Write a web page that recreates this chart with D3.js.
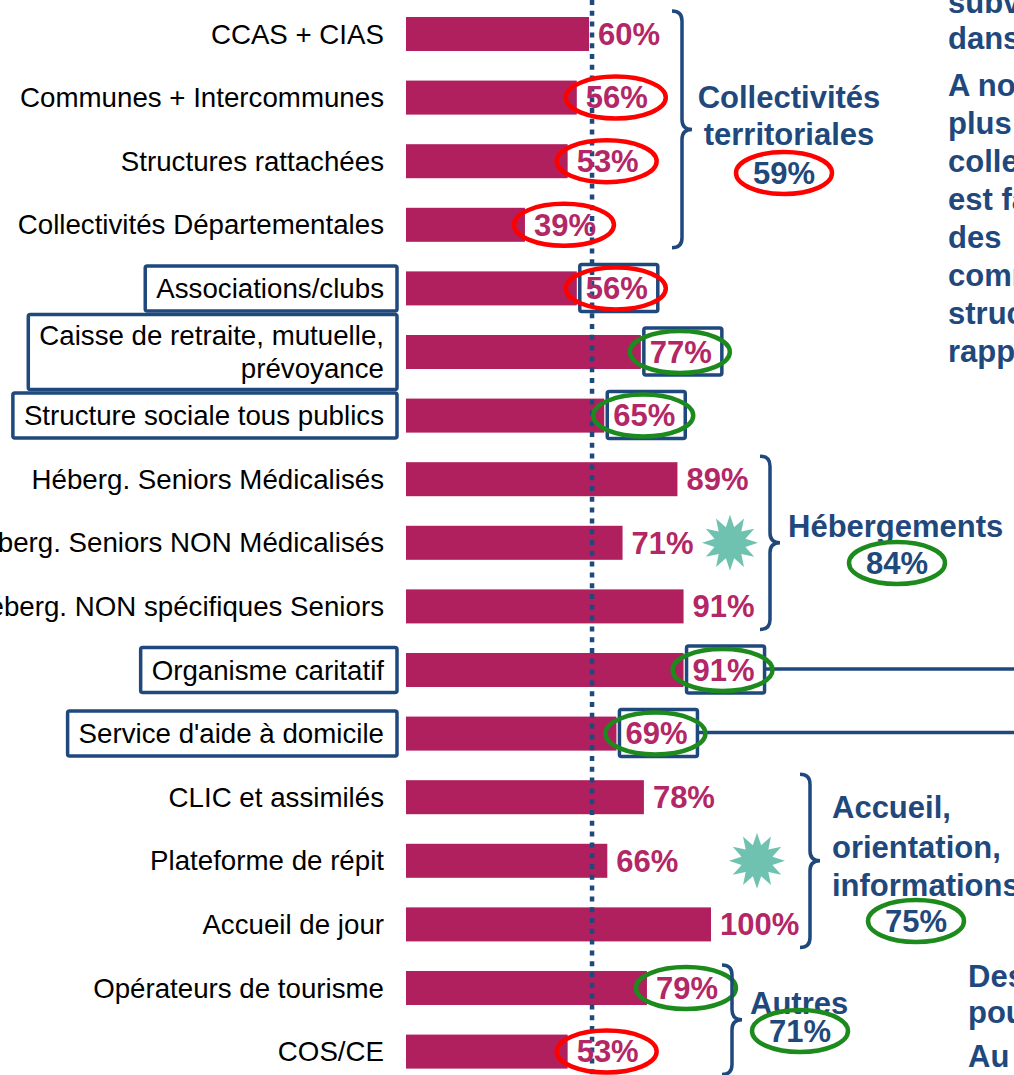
<!DOCTYPE html>
<html>
<head>
<meta charset="utf-8">
<script src="https://cdn.jsdelivr.net/npm/d3@7"></script>
<style>
  html, body { margin: 0; padding: 0; background: #ffffff; overflow: hidden; }
  svg { display: block; }
</style>
</head>
<body>
<div id="chart"></div>
<script>
// ---------------- DATA ----------------
const categories = [
  "CCAS + CIAS",
  "Communes + Intercommunes",
  "Structures rattachées",
  "Collectivités Départementales",
  "Associations/clubs",
  "Caisse de retraite, mutuelle,\nprévoyance",
  "Structure sociale tous publics",
  "Héberg. Seniors Médicalisés",
  "Héberg. Seniors NON Médicalisés",
  "Héberg. NON spécifiques Seniors",
  "Organisme caritatif",
  "Service d'aide à domicile",
  "CLIC et assimilés",
  "Plateforme de répit",
  "Accueil de jour",
  "Opérateurs de tourisme",
  "COS/CE"
];
const values = [60, 56, 53, 39, 56, 77, 65, 89, 71, 91, 91, 69, 78, 66, 100, 79, 53];
const valueMarks = ["", "red", "red", "red", "red", "green", "green", "", "", "", "green", "green", "", "", "", "green", "red"];
const boxedRows = [4, 5, 6, 10, 11];
const connectorRows = [10, 11];
const starRows = [8, 13];
const averageValue = 61;

const groupLines = [["Collectivités", "territoriales"], ["Hébergements"], ["Accueil,", "orientation,", "informations"], ["Autres"]];
const groupFirst = [0, 7, 12, 15];
const groupLast = [3, 9, 14, 16];
const groupTotals = [59, 84, 75, 71];
const groupMarks = ["red", "green", "green", "green"];

const sideTextTop = ["subventionnées", "dans", "A noter", "plus", "collectivités", "est faible", "des", "communes", "structures", "rapport"];
const sideTextBottom = ["Des", "pour", "Au"];

// ---------------- LAYOUT ----------------
const W = 1014, H = 1075;
const BAR = "#b0205e", LABEL = "#b32766", NAVY = "#1f487c", RED = "#ff0000", GREEN = "#1c8a1c", TEAL = "#6fc2b0";
const FONT = "'Liberation Sans', Arial, Helvetica, sans-serif";

const svg = d3.select("#chart").append("svg")
  .attr("width", W).attr("height", H)
  .style("font-family", FONT);

const x = d3.scaleLinear().domain([0, 100]).range([406, 711]);
const y = d3.scaleBand().domain(d3.range(categories.length))
  .range([2.2, 1083.4]).paddingInner(0.465).paddingOuter(0.2325);
const cy = i => y(i) + y.bandwidth() / 2;

// bars
svg.append("g").selectAll("rect").data(values).join("rect")
  .attr("x", x(0)).attr("y", (d, i) => y(i))
  .attr("width", d => x(d) - x(0)).attr("height", y.bandwidth())
  .attr("fill", BAR);

// average dotted line
svg.append("line")
  .attr("x1", x(averageValue)).attr("x2", x(averageValue))
  .attr("y1", 0).attr("y2", H)
  .attr("stroke", NAVY).attr("stroke-width", 4.5)
  .attr("stroke-dasharray", "5,5.8");

// category labels
const lab = svg.append("g").selectAll("g").data(categories).join("g");
lab.each(function(d, i) {
  const lines = d.split("\n");
  const g = d3.select(this);
  const t = g.append("text")
    .attr("text-anchor", "end")
    .attr("font-size", 27.7)
    .attr("fill", "#000");
  const lh = 33;
  lines.forEach((ln, k) => {
    t.append("tspan").attr("x", 384)
      .attr("y", cy(i) + (k - (lines.length - 1) / 2) * lh)
      .attr("dy", "0.35em").text(ln);
  });
  if (boxedRows.includes(i)) {
    const bb = t.node().getBBox();
    const left = bb.x - 11;
    const hh = lines.length === 1 ? 45 : 75;
    g.insert("rect", "text")
      .attr("x", left).attr("y", cy(i) - hh / 2)
      .attr("width", 397 - left).attr("height", hh)
      .attr("rx", 2)
      .attr("fill", "none").attr("stroke", NAVY).attr("stroke-width", 3.5);
  }
});

// value label boxes
svg.append("g").selectAll("rect").data(boxedRows).join("rect")
  .attr("x", i => x(values[i]) + 3).attr("y", i => cy(i) - 24)
  .attr("width", 78).attr("height", 47).attr("rx", 2)
  .attr("fill", "none").attr("stroke", NAVY).attr("stroke-width", 3.5);

// connectors to the right
svg.append("g").selectAll("line").data(connectorRows).join("line")
  .attr("x1", i => x(values[i]) + 81).attr("x2", W)
  .attr("y1", i => cy(i) - 1).attr("y2", i => cy(i) - 1)
  .attr("stroke", NAVY).attr("stroke-width", 3.5);

// value labels
svg.append("g").selectAll("text").data(values).join("text")
  .attr("x", d => x(d) + 9).attr("y", (d, i) => cy(i))
  .attr("dy", "0.35em")
  .attr("font-size", 31).attr("font-weight", "bold")
  .attr("fill", LABEL)
  .text(d => d + "%");

// highlight ellipses
svg.append("g").selectAll("ellipse")
  .data(values.map((v, i) => ({v, i, m: valueMarks[i]})).filter(d => d.m))
  .join("ellipse")
  .attr("cx", d => x(d.v) + 39).attr("cy", d => cy(d.i))
  .attr("rx", 50).attr("ry", 21)
  .attr("fill", "none")
  .attr("stroke", d => d.m === "red" ? RED : GREEN)
  .attr("stroke-width", 4.5);

// stars
const starLayoutX = [730, 757];
const starPts = d3.range(24).map(k => [k * Math.PI / 12, k % 2 === 0 ? 28 : 16]);
const starPath = d3.lineRadial().curve(d3.curveLinearClosed)(starPts);
svg.append("g").selectAll("path").data(starRows).join("path")
  .attr("transform", (r, k) => `translate(${starLayoutX[k]},${cy(r)})`)
  .attr("d", starPath).attr("fill", TEAL);

// group braces
const braceX = [672, 760, 800, 722];
function bracePath(x0, y0, y1, w) {
  const r = w / 2, xb = x0 + r, ym = (y0 + y1) / 2;
  return `M${x0},${y0} Q${xb},${y0} ${xb},${y0 + r} L${xb},${ym - r} Q${xb},${ym} ${x0 + w},${ym}` +
         ` Q${xb},${ym} ${xb},${ym + r} L${xb},${y1 - r} Q${xb},${y1} ${x0},${y1}`;
}
svg.append("g").selectAll("path").data(groupFirst).join("path")
  .attr("d", (f, k) => bracePath(braceX[k], cy(f) - 23, cy(groupLast[k]) + 23, 20))
  .attr("fill", "none").attr("stroke", NAVY).attr("stroke-width", 3.5);

// group texts
const groupTextLayout = [
  {anchor: "middle", x: 789, ys: [97, 134], px: 784, py: 173},
  {anchor: "start", x: 788, ys: [526], px: 897, py: 563},
  {anchor: "start", x: 832, ys: [807, 847, 885], px: 916, py: 921},
  {anchor: "start", x: 750, ys: [1003], px: 800, py: 1031}
];
groupLines.forEach((lines, k) => {
  const L = groupTextLayout[k];
  lines.forEach((ln, j) => {
    svg.append("text").attr("x", L.x).attr("y", L.ys[j]).attr("dy", "0.35em")
      .attr("text-anchor", L.anchor).attr("font-size", 31).attr("font-weight", "bold")
      .attr("fill", NAVY).text(ln);
  });
  svg.append("ellipse").attr("cx", L.px).attr("cy", L.py).attr("rx", 48).attr("ry", 21)
    .attr("fill", "none").attr("stroke", groupMarks[k] === "red" ? RED : GREEN).attr("stroke-width", 4.5);
  svg.append("text").attr("x", L.px).attr("y", L.py).attr("dy", "0.35em")
    .attr("text-anchor", "middle").attr("font-size", 31).attr("font-weight", "bold")
    .attr("fill", NAVY).text(groupTotals[k] + "%");
});

// side text (cropped paragraph)
const topBaselines = [13, 49, 96, 134, 172, 210, 248, 286, 324, 362];
sideTextTop.forEach((t, k) => {
  svg.append("text").attr("x", 948).attr("y", topBaselines[k])
    .attr("font-size", 31).attr("font-weight", "bold").attr("fill", NAVY).text(t);
});
const bottomBaselines = [987, 1023, 1067];
sideTextBottom.forEach((t, k) => {
  svg.append("text").attr("x", 968).attr("y", bottomBaselines[k])
    .attr("font-size", 31).attr("font-weight", "bold").attr("fill", NAVY).text(t);
});
</script>
</body>
</html>
